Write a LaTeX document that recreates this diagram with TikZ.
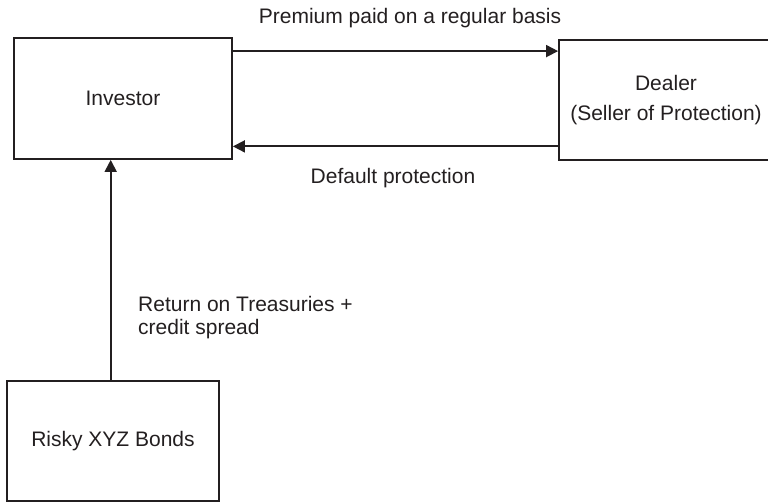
\documentclass[tikz,border=0pt]{standalone}
\usepackage{fontspec}
\setmainfont{Liberation Sans}
\usetikzlibrary{arrows.meta}
\definecolor{ink}{HTML}{231F20}
\begin{document}
\begin{tikzpicture}[x=1pt,y=-1pt,
  box/.style={draw=ink, line width=1.8pt, rectangle, inner sep=0pt, text=ink,
    font=\fontsize{21}{29.5}\selectfont, align=center},
  flow/.style={draw=ink, line width=1.8pt, -{Triangle[length=12pt,width=12pt]}},
  lbl/.style={text=ink, font=\fontsize{21}{23.5}\selectfont, inner sep=0pt}]
\useasboundingbox (0,0) rectangle (768,502);
\clip (0,0) rectangle (768,502);
% parties
\node[box, minimum width=218pt, minimum height=121pt] (inv) at (123,98.5) {Investor};
\node[box, minimum width=214pt, minimum height=120pt] (dea) at (666,100) {Dealer\\(Seller of Protection)};
\node[box, minimum width=212pt, minimum height=120pt] (bnd) at (113,441) {Risky XYZ Bonds};
% cash flows
\draw[flow] ([yshift=-14pt]inv.north east) -- ([yshift=-12pt]dea.north west);
\draw[flow] ([yshift=14.5pt]dea.south west) -- ([yshift=13.5pt]inv.south east);
\draw[flow] ([xshift=-2.3pt]bnd.north) -- ([xshift=-12.3pt]inv.south);
% flow labels
\node[lbl, anchor=base] (prem) at (410,24) {Premium paid on a regular basis};
\node[lbl, anchor=base] (dflt) at (393,184) {Default protection};
\node[lbl, anchor=base west, align=left] (ret) at (138,335) {Return on Treasuries +\\credit spread};
\end{tikzpicture}
\end{document}
